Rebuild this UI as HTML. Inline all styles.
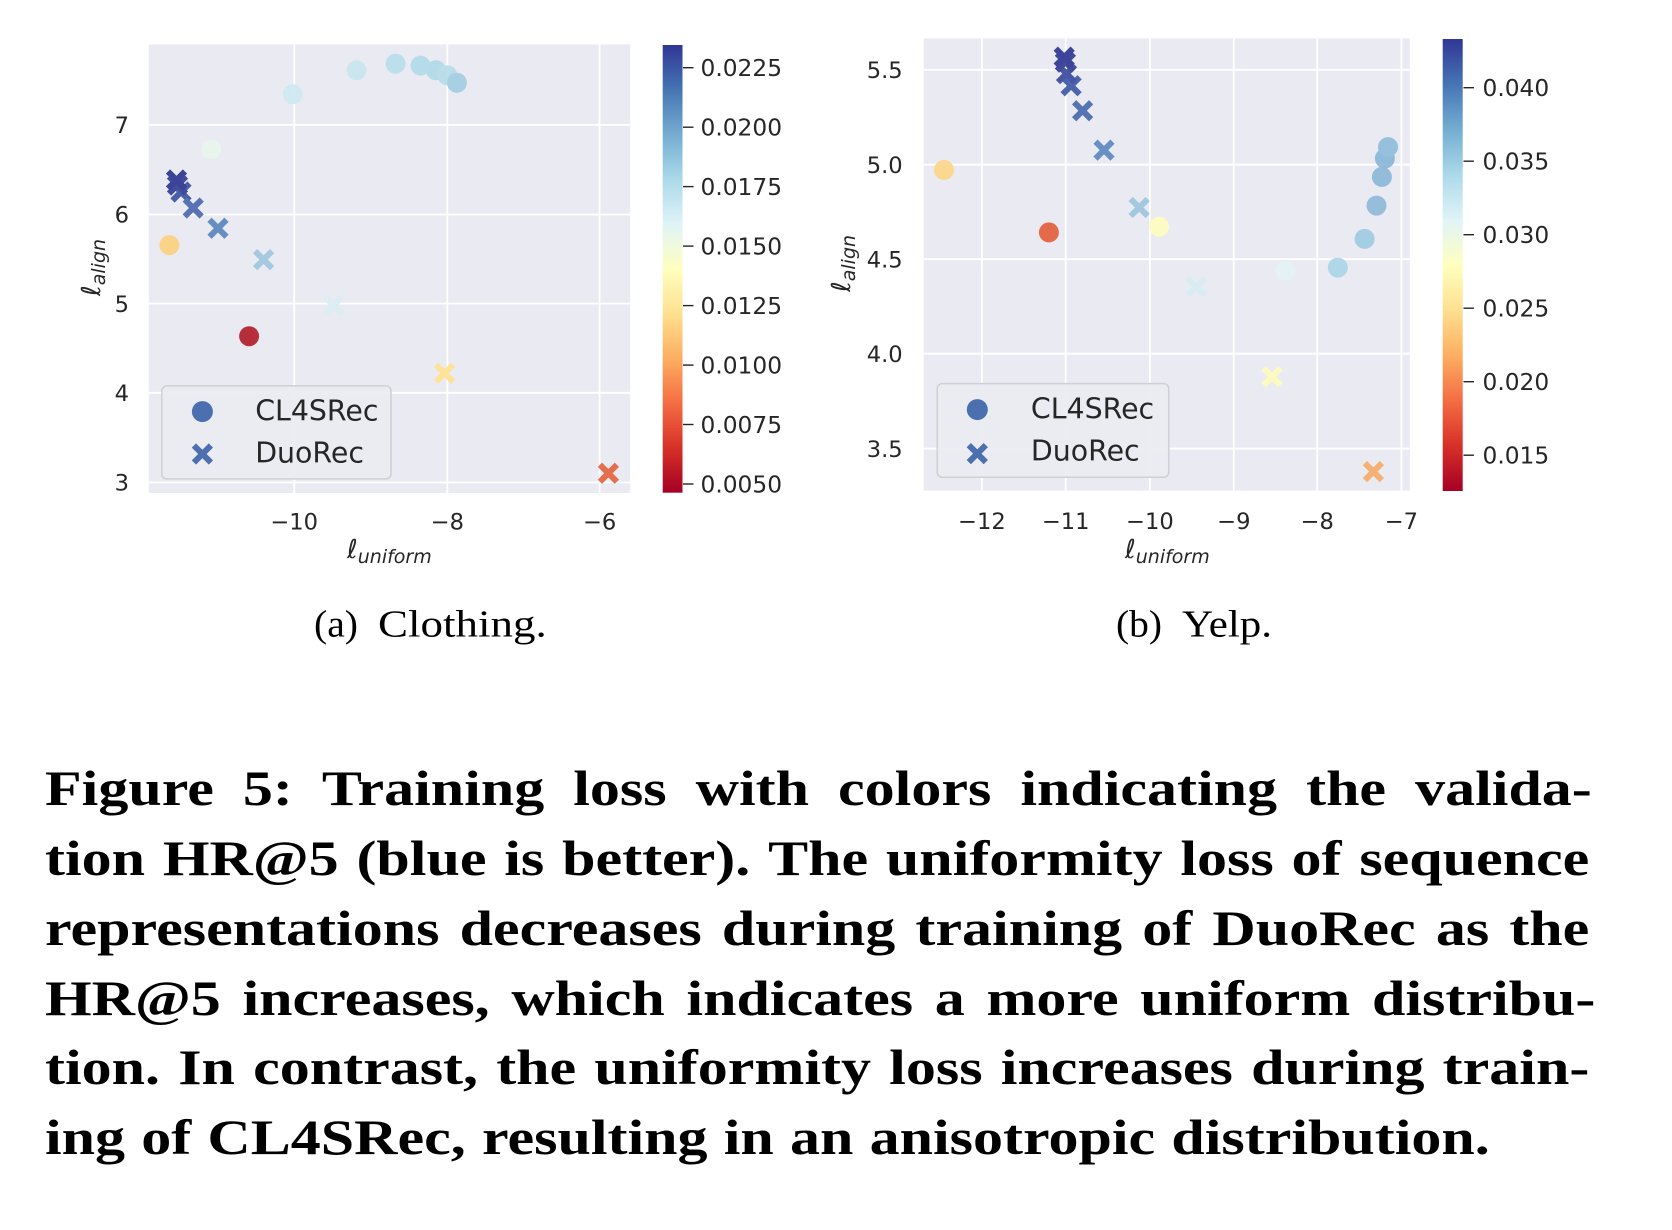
<!DOCTYPE html>
<html>
<head>
<meta charset="utf-8">
<style>
  html,body{margin:0;padding:0;background:#fff;}
  body{width:1672px;height:1230px;position:relative;overflow:hidden;}
  svg{position:absolute;left:0;top:0;}
  .cap{position:absolute;left:45px;height:50px;line-height:50px;font-family:"Liberation Serif",serif;font-weight:bold;font-size:50px;color:#000;display:flex;justify-content:space-between;white-space:nowrap;transform:scaleX(1.2);transform-origin:0 0;}
  .cap span{display:block;}
</style>
</head>
<body>
<svg width="1672" height="1230" viewBox="0 0 1672 1230" xmlns="http://www.w3.org/2000/svg">
  <defs>
    <linearGradient id="rdylbu" x1="0" y1="1" x2="0" y2="0">
      <stop offset="0" stop-color="#a50026"/>
      <stop offset="0.1" stop-color="#d73027"/>
      <stop offset="0.2" stop-color="#f46d43"/>
      <stop offset="0.3" stop-color="#fdae61"/>
      <stop offset="0.4" stop-color="#fee090"/>
      <stop offset="0.5" stop-color="#ffffbf"/>
      <stop offset="0.6" stop-color="#e0f3f8"/>
      <stop offset="0.7" stop-color="#abd9e9"/>
      <stop offset="0.8" stop-color="#74add1"/>
      <stop offset="0.9" stop-color="#4575b4"/>
      <stop offset="1" stop-color="#313695"/>
    </linearGradient>
    <path id="xm" d="M-8.5,-8.5L8.5,8.5M-8.5,8.5L8.5,-8.5"/>
  </defs>

  <!-- ================= PLOT 1 ================= -->
  <rect x="148.8" y="44.5" width="481.4" height="448.5" fill="#eaeaf2"/>
  <g stroke="#ffffff" stroke-width="1.8">
    <line x1="294.2" y1="44.5" x2="294.2" y2="493"/>
    <line x1="447.3" y1="44.5" x2="447.3" y2="493"/>
    <line x1="599.6" y1="44.5" x2="599.6" y2="493"/>
    <line x1="148.8" y1="124.9" x2="630.2" y2="124.9"/>
    <line x1="148.8" y1="214.5" x2="630.2" y2="214.5"/>
    <line x1="148.8" y1="303.6" x2="630.2" y2="303.6"/>
    <line x1="148.8" y1="392.8" x2="630.2" y2="392.8"/>
    <line x1="148.8" y1="482.4" x2="630.2" y2="482.4"/>
  </g>
  <g opacity="0.92">
    <circle cx="292.7" cy="94.3" r="10" fill="#cfe9f1"/>
    <circle cx="356.6" cy="70.2" r="10" fill="#c9e6ef"/>
    <circle cx="395.6" cy="63.7" r="10" fill="#b9dfeb"/>
    <circle cx="420.5" cy="65.6" r="10" fill="#b3dbe9"/>
    <circle cx="435.8" cy="70.2" r="10" fill="#b1d9e8"/>
    <circle cx="447.3" cy="75.2" r="10" fill="#b8dcea"/>
    <circle cx="456.9" cy="82.8" r="10" fill="#a3cde2"/>
    <circle cx="211.2" cy="149.4" r="10" fill="#e9f5ec"/>
    <circle cx="169.4" cy="245.1" r="10" fill="#fbd280"/>
    <circle cx="249.1" cy="336.2" r="10" fill="#b21f2b"/>
  </g>
  <g stroke-width="6" stroke-linecap="butt" fill="none" opacity="0.92">
    <use href="#xm" transform="translate(181,192)" stroke="#3d52a3"/>
    <use href="#xm" transform="translate(177.5,185)" stroke="#303c94"/>
    <use href="#xm" transform="translate(176.5,180)" stroke="#2b3590"/>
    <use href="#xm" transform="translate(193.2,208)" stroke="#4968ae"/>
    <use href="#xm" transform="translate(218,228.2)" stroke="#5a85bd"/>
    <use href="#xm" transform="translate(263.6,259.6)" stroke="#9ec6de"/>
    <use href="#xm" transform="translate(333.6,305.5)" stroke="#d9eef4"/>
    <use href="#xm" transform="translate(444.6,373.3)" stroke="#fde28f"/>
    <use href="#xm" transform="translate(608.4,473.2)" stroke="#e4633f"/>
  </g>
  <!-- legend 1 -->
  <rect x="161.8" y="385.9" width="229.2" height="93" rx="5" ry="5" fill="#eaeaf2" fill-opacity="0.92" stroke="#cfcfd6" stroke-width="1.5"/>
  <circle cx="202.4" cy="411.6" r="10.5" fill="#4c6fb0"/>
  <use href="#xm" transform="translate(202.4,454)" stroke="#4c6fb0" stroke-width="6" fill="none"/>
  <g font-family="DejaVu Sans, sans-serif" font-size="28.4" fill="#262626">
    <text x="255.2" y="420.4">CL4SRec</text>
    <text x="255.2" y="462.5">DuoRec</text>
  </g>
  <g font-family="DejaVu Sans, sans-serif" font-size="22.6" fill="#262626">
    <text x="129" y="133.1" text-anchor="end">7</text>
    <text x="129" y="222.7" text-anchor="end">6</text>
    <text x="129" y="311.8" text-anchor="end">5</text>
    <text x="129" y="401" text-anchor="end">4</text>
    <text x="129" y="490.6" text-anchor="end">3</text>
    <text x="294.2" y="529.5" text-anchor="middle">−10</text>
    <text x="447.3" y="529.5" text-anchor="middle">−8</text>
    <text x="599.6" y="529.5" text-anchor="middle">−6</text>
  </g>
  <g font-family="DejaVu Sans, sans-serif" fill="#262626" font-style="italic">
    <text x="347" y="558" font-size="26">ℓ<tspan font-size="19" dy="5">uniform</tspan></text>
    <text transform="translate(100,296) rotate(-90)" font-size="26">ℓ<tspan font-size="19" dy="5">align</tspan></text>
  </g>
  <!-- colorbar 1 -->
  <rect x="662.7" y="45" width="19.8" height="447.7" fill="url(#rdylbu)"/>
  <g stroke="#262626" stroke-width="1.4">
    <line x1="683" y1="67.7" x2="693.5" y2="67.7"/>
    <line x1="683" y1="127.2" x2="693.5" y2="127.2"/>
    <line x1="683" y1="186.6" x2="693.5" y2="186.6"/>
    <line x1="683" y1="246.1" x2="693.5" y2="246.1"/>
    <line x1="683" y1="305.6" x2="693.5" y2="305.6"/>
    <line x1="683" y1="365.1" x2="693.5" y2="365.1"/>
    <line x1="683" y1="424.5" x2="693.5" y2="424.5"/>
    <line x1="683" y1="484" x2="693.5" y2="484"/>
  </g>
  <g font-family="DejaVu Sans, sans-serif" font-size="23.3" fill="#262626">
    <text x="700.5" y="76.2">0.0225</text>
    <text x="700.5" y="135.7">0.0200</text>
    <text x="700.5" y="195.1">0.0175</text>
    <text x="700.5" y="254.6">0.0150</text>
    <text x="700.5" y="314.1">0.0125</text>
    <text x="700.5" y="373.6">0.0100</text>
    <text x="700.5" y="433">0.0075</text>
    <text x="700.5" y="492.5">0.0050</text>
  </g>

  <!-- ================= PLOT 2 ================= -->
  <rect x="923.8" y="38.4" width="486" height="452.3" fill="#eaeaf2"/>
  <g stroke="#ffffff" stroke-width="1.8">
    <line x1="981.9" y1="38.4" x2="981.9" y2="490.7"/>
    <line x1="1065.7" y1="38.4" x2="1065.7" y2="490.7"/>
    <line x1="1149.9" y1="38.4" x2="1149.9" y2="490.7"/>
    <line x1="1233.8" y1="38.4" x2="1233.8" y2="490.7"/>
    <line x1="1317.2" y1="38.4" x2="1317.2" y2="490.7"/>
    <line x1="1401.4" y1="38.4" x2="1401.4" y2="490.7"/>
    <line x1="923.8" y1="69.8" x2="1409.8" y2="69.8"/>
    <line x1="923.8" y1="164.7" x2="1409.8" y2="164.7"/>
    <line x1="923.8" y1="259.2" x2="1409.8" y2="259.2"/>
    <line x1="923.8" y1="353.7" x2="1409.8" y2="353.7"/>
    <line x1="923.8" y1="448.6" x2="1409.8" y2="448.6"/>
  </g>
  <g opacity="0.92">
    <circle cx="944" cy="170" r="10" fill="#fcd68a"/>
    <circle cx="1048.9" cy="232.4" r="10" fill="#e2603d"/>
    <circle cx="1159.1" cy="226.7" r="10" fill="#fefcc0"/>
    <circle cx="1285.4" cy="270.7" r="10" fill="#e4f3f6"/>
    <circle cx="1337.8" cy="267.6" r="10" fill="#aad6e7"/>
    <circle cx="1364.6" cy="238.9" r="10" fill="#a0cbe2"/>
    <circle cx="1376.5" cy="205.6" r="10" fill="#8fbbda"/>
    <circle cx="1381.9" cy="176.9" r="10" fill="#8bb9d8"/>
    <circle cx="1384.9" cy="158.5" r="10" fill="#8ab8d8"/>
    <circle cx="1388" cy="147.1" r="10" fill="#8fbddb"/>
  </g>
  <g stroke-width="6" stroke-linecap="butt" fill="none" opacity="0.92">
    <use href="#xm" transform="translate(1082.6,110.7)" stroke="#4a69ad"/>
    <use href="#xm" transform="translate(1071.1,85.8)" stroke="#3f58a7"/>
    <use href="#xm" transform="translate(1066.5,73.6)" stroke="#3849a0"/>
    <use href="#xm" transform="translate(1065.4,62.1)" stroke="#313b96"/>
    <use href="#xm" transform="translate(1064.2,57.1)" stroke="#2e3592"/>
    <use href="#xm" transform="translate(1104,150.1)" stroke="#5d88bf"/>
    <use href="#xm" transform="translate(1139.2,207.5)" stroke="#9cc5de"/>
    <use href="#xm" transform="translate(1196.2,286.7)" stroke="#d6edf3"/>
    <use href="#xm" transform="translate(1272,376.7)" stroke="#fefbbb"/>
    <use href="#xm" transform="translate(1373.4,471.6)" stroke="#f5ac68"/>
  </g>
  <!-- legend 2 -->
  <rect x="937.2" y="383.6" width="231.5" height="93.7" rx="5" ry="5" fill="#eaeaf2" fill-opacity="0.92" stroke="#cfcfd6" stroke-width="1.5"/>
  <circle cx="977.3" cy="409.6" r="10.5" fill="#4c6fb0"/>
  <use href="#xm" transform="translate(977.3,453.6)" stroke="#4c6fb0" stroke-width="6" fill="none"/>
  <g font-family="DejaVu Sans, sans-serif" font-size="28.4" fill="#262626">
    <text x="1030.9" y="418.4">CL4SRec</text>
    <text x="1030.9" y="460.3">DuoRec</text>
  </g>
  <g font-family="DejaVu Sans, sans-serif" font-size="22.6" fill="#262626">
    <text x="902.7" y="78" text-anchor="end">5.5</text>
    <text x="902.7" y="172.9" text-anchor="end">5.0</text>
    <text x="902.7" y="267.4" text-anchor="end">4.5</text>
    <text x="902.7" y="361.9" text-anchor="end">4.0</text>
    <text x="902.7" y="456.8" text-anchor="end">3.5</text>
    <text x="981.9" y="528.8" text-anchor="middle">−12</text>
    <text x="1065.7" y="528.8" text-anchor="middle">−11</text>
    <text x="1149.9" y="528.8" text-anchor="middle">−10</text>
    <text x="1233.8" y="528.8" text-anchor="middle">−9</text>
    <text x="1317.2" y="528.8" text-anchor="middle">−8</text>
    <text x="1401.4" y="528.8" text-anchor="middle">−7</text>
  </g>
  <g font-family="DejaVu Sans, sans-serif" fill="#262626" font-style="italic">
    <text x="1125" y="558" font-size="26">ℓ<tspan font-size="19" dy="5">uniform</tspan></text>
    <text transform="translate(850,292) rotate(-90)" font-size="26">ℓ<tspan font-size="19" dy="5">align</tspan></text>
  </g>
  <!-- colorbar 2 -->
  <rect x="1442.7" y="39" width="20" height="452" fill="url(#rdylbu)"/>
  <g stroke="#262626" stroke-width="1.4">
    <line x1="1463.5" y1="87.7" x2="1474" y2="87.7"/>
    <line x1="1463.5" y1="161.2" x2="1474" y2="161.2"/>
    <line x1="1463.5" y1="234.7" x2="1474" y2="234.7"/>
    <line x1="1463.5" y1="308.2" x2="1474" y2="308.2"/>
    <line x1="1463.5" y1="381.7" x2="1474" y2="381.7"/>
    <line x1="1463.5" y1="455.2" x2="1474" y2="455.2"/>
  </g>
  <g font-family="DejaVu Sans, sans-serif" font-size="23.3" fill="#262626">
    <text x="1482.5" y="96.2">0.040</text>
    <text x="1482.5" y="169.7">0.035</text>
    <text x="1482.5" y="243.2">0.030</text>
    <text x="1482.5" y="316.7">0.025</text>
    <text x="1482.5" y="390.2">0.020</text>
    <text x="1482.5" y="463.7">0.015</text>
  </g>

  <!-- sub-captions -->
  <g font-family="Liberation Serif, serif" font-size="38" fill="#000">
    <text x="314" y="636.7" textLength="44" lengthAdjust="spacingAndGlyphs">(a)</text>
    <text x="378" y="636.7" textLength="168.7" lengthAdjust="spacingAndGlyphs">Clothing.</text>
    <text x="1116" y="636.7" textLength="46" lengthAdjust="spacingAndGlyphs">(b)</text>
    <text x="1182" y="636.7" textLength="90" lengthAdjust="spacingAndGlyphs">Yelp.</text>
  </g>
</svg>

<div class="cap" style="top:763.1px;width:1289px;"><span>Figure</span><span>5:</span><span>Training</span><span>loss</span><span>with</span><span>colors</span><span>indicating</span><span>the</span><span>valida-</span></div>
<div class="cap" style="top:832.9px;width:1287px;"><span>tion</span><span>HR@5</span><span>(blue</span><span>is</span><span>better).</span><span>The</span><span>uniformity</span><span>loss</span><span>of</span><span>sequence</span></div>
<div class="cap" style="top:902.7px;width:1287px;"><span>representations</span><span>decreases</span><span>during</span><span>training</span><span>of</span><span>DuoRec</span><span>as</span><span>the</span></div>
<div class="cap" style="top:972.5px;width:1292px;"><span>HR@5</span><span>increases,</span><span>which</span><span>indicates</span><span>a</span><span>more</span><span>uniform</span><span>distribu-</span></div>
<div class="cap" style="top:1042.3px;width:1287px;"><span>tion.</span><span>In</span><span>contrast,</span><span>the</span><span>uniformity</span><span>loss</span><span>increases</span><span>during</span><span>train-</span></div>
<div class="cap" style="top:1112.1px;width:1204px;"><span>ing</span><span>of</span><span>CL4SRec,</span><span>resulting</span><span>in</span><span>an</span><span>anisotropic</span><span>distribution.</span></div>
</body>
</html>
